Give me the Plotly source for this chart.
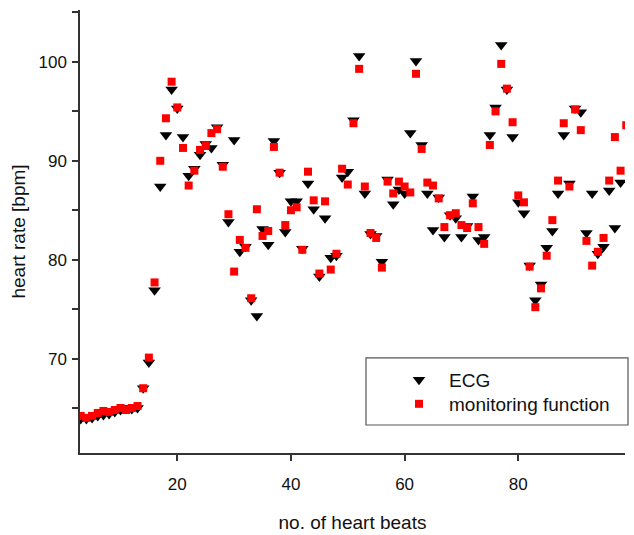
import plotly.graph_objects as go

beats_ecg = list(range(3, 99))
ecg = [63.9, 63.9, 64.0, 64.2, 64.3, 64.4, 64.6, 64.8, 65.0, 64.9, 65.0,
       67.0, 69.6, 76.9, 87.4, 92.6, 97.2, 95.3, 92.4, 88.5, 89.2,
       90.6, 91.7, 91.3, 93.4, 89.6, 83.8, 92.1, 80.8, 81.3, 75.9,
       74.3, 83.1, 81.5, 92.0, 88.8, 82.8, 85.9, 85.9, 81.1, 87.7,
       85.1, 78.3, 84.2, 80.2, 80.4, 88.3, 88.9, 94.1, 100.6, 86.7,
       82.6, 82.4, 79.8, 88.1, 85.6, 87.1, 86.7, 92.8, 100.1, 91.6,
       86.7, 83.0, 86.3, 82.3, 84.5, 84.2, 82.3, 83.4, 86.4, 82.0,
       82.3, 92.6, 95.4, 101.7, 97.2, 92.4, 85.8, 84.7, 79.4, 75.9,
       77.5, 81.2, 82.9, 86.7, 92.6, 87.7, 95.3, 94.9, 82.7, 86.7,
       80.6, 81.3, 87.0, 83.2, 87.8]

beats_mon = list(range(3, 100))
mon = [64.2, 64.0, 64.2, 64.5, 64.7, 64.6, 64.8, 65.0, 64.8, 65.0, 65.2,
       67.0, 70.1, 77.7, 90.0, 94.3, 98.0, 95.4, 91.3, 87.5, 89.0,
       91.1, 91.5, 92.8, 93.2, 89.4, 84.6, 78.8, 82.0, 81.2, 76.1,
       85.1, 82.4, 82.9, 91.4, 88.8, 83.5, 85.0, 85.3, 81.0, 88.9,
       86.0, 78.6, 85.9, 79.0, 80.6, 89.2, 87.6, 93.8, 99.3, 87.4,
       82.7, 82.2, 79.2, 87.9, 86.7, 87.9, 87.4, 86.8, 98.8, 91.2,
       87.8, 87.5, 86.2, 83.3, 84.5, 84.7, 83.5, 83.2, 85.7, 83.3,
       81.6, 91.6, 95.0, 99.8, 97.3, 93.9, 86.5, 85.8, 79.3, 75.2,
       77.1, 80.4, 84.0, 88.0, 93.8, 87.4, 95.2, 93.1, 81.9, 79.4,
       80.8, 82.2, 88.0, 92.4, 89.0, 93.6]

x_ticks = [20, 40, 60, 80]
y_ticks = [70, 80, 90, 100]

FONT = "Liberation Sans, Arial, sans-serif"
AX = "#333333"
TXT = "#111111"

fig = go.Figure()
fig.add_trace(go.Scatter(
    x=beats_ecg, y=ecg, mode="markers", name="ECG", legend="legend",
    marker=dict(symbol="triangle-down", size=11, color="black",
                line=dict(width=0))))
fig.add_trace(go.Scatter(
    x=beats_mon, y=mon, mode="markers", name="monitoring function",
    legend="legend2",
    marker=dict(symbol="square", size=8, color="#ff0000",
                line=dict(width=0))))

leg_common = dict(xanchor="left", yanchor="top",
                  bgcolor="rgba(0,0,0,0)", borderwidth=0,
                  font=dict(size=19, family=FONT, color=TXT),
                  itemwidth=50)

fig.update_layout(
    width=634, height=535,
    margin=dict(l=80, r=9, t=10, b=82),
    paper_bgcolor="white", plot_bgcolor="white",
    font=dict(family=FONT, color=TXT),
    showlegend=True,
    legend=dict(x=0.567, y=0.2078, **leg_common),
    legend2=dict(x=0.567, y=0.1536, **leg_common),
    xaxis=dict(range=[2.88, 98.78], tickvals=x_ticks, ticks="outside",
               ticklen=6, tickwidth=1.5, tickcolor=AX,
               showline=True, linecolor=AX, linewidth=1.5,
               showgrid=False, zeroline=False, automargin=False,
               tickfont=dict(size=17, family=FONT, color=TXT),
               ticklabelstandoff=9,
               title=dict(text="no. of heart beats",
                          font=dict(size=19, family=FONT, color=TXT),
                          standoff=23)),
    yaxis=dict(range=[60.45, 105.25], tickvals=y_ticks, ticks="outside",
               ticklen=6, tickwidth=1.5, tickcolor=AX,
               minor=dict(dtick=5, tick0=0, ticks="outside", ticklen=6,
                          tickwidth=1.5, tickcolor=AX, showgrid=False),
               showline=True, linecolor=AX, linewidth=1.5,
               showgrid=False, zeroline=False, automargin=False,
               tickfont=dict(size=17, family=FONT, color=TXT),
               ticklabelstandoff=2,
               title=dict(text="heart rate [bpm]",
                          font=dict(size=19, family=FONT, color=TXT),
                          standoff=8)),
    shapes=[dict(type="rect", xref="paper", yref="paper",
                 x0=(366 - 80) / 545, x1=(628 - 80) / 545,
                 y0=(453 - 425) / 442.7, y1=(453 - 358) / 442.7,
                 line=dict(color="#555555", width=1.2),
                 fillcolor="rgba(0,0,0,0)", layer="below")],
)

fig.write_html("out.html")
